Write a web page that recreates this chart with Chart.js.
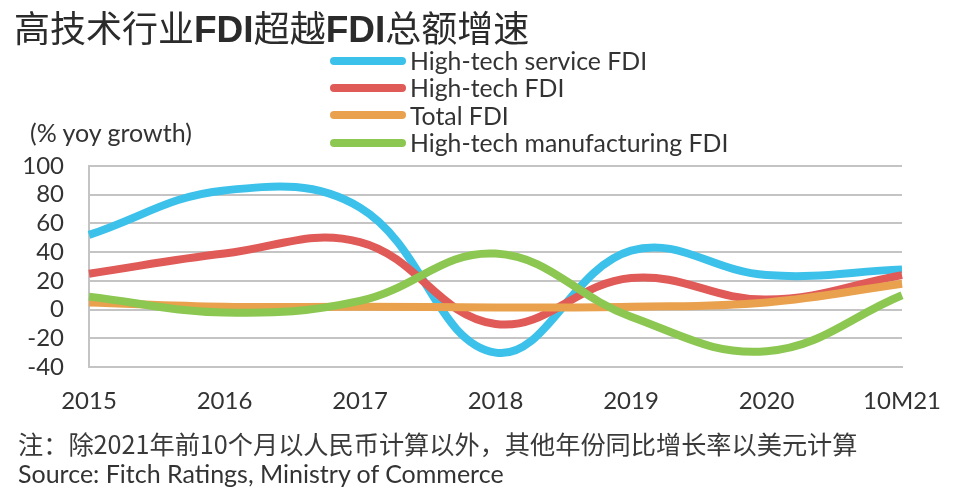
<!DOCTYPE html>
<html>
<head>
<meta charset="utf-8">
<script src="https://cdn.jsdelivr.net/npm/chart.js@4/dist/chart.umd.min.js"></script>
<style>
  html, body { margin: 0; padding: 0; background: #fff; }
  #wrap { position: relative; width: 961px; height: 500px; overflow: hidden; background: #fff; }
  #chart { position: absolute; left: 0; top: 0; }
  .t { position: absolute; white-space: nowrap; color: #333; }
  #title { left: 14px; top: 3px; font-family: "Noto Sans CJK SC", sans-serif; font-size: 36px; line-height: 46px; color: #2b2b2b; }
  #title b { font-family: "Liberation Sans", Arial, sans-serif; font-weight: 700; font-size: 37px; }
  #ylab { left: 30px; top: 117px; font-family: Lato, sans-serif; font-size: 25px; line-height: 30px; }
  #legend { position: absolute; left: 330px; top: 47px; font-family: Lato, sans-serif; font-size: 24.8px; color: #333; }
  #legend .row { height: 27.3px; display: flex; align-items: center; }
  #legend .sw { width: 76px; height: 8px; border-radius: 4px; margin-right: 4px; }
  #note { left: 18px; top: 427px; font-family: "Noto Sans CJK SC", sans-serif; font-size: 25.2px; line-height: 32px; color: #3a3a3a; }
  #src { left: 18px; top: 458px; font-family: Lato, sans-serif; font-size: 25px; line-height: 30px; }
</style>
</head>
<body>
<div id="wrap">
  <canvas id="chart" width="961" height="500"></canvas>
  <div class="t" id="title">高技术行业<b>FDI</b>超越<b>FDI</b>总额增速</div>
  <div id="legend"></div>
  <div class="t" id="ylab">(% yoy growth)</div>
  <div class="t" id="note">注：除2021年前10个月以人民币计算以外，其他年份同比增长率以美元计算</div>
  <div class="t" id="src">Source: Fitch Ratings, Ministry of Commerce</div>
</div>
<script>
const categories = ["2015", "2016", "2017", "2018", "2019", "2020", "10M21"];
const seriesNames = ["High-tech service FDI", "High-tech FDI", "Total FDI", "High-tech manufacturing FDI"];
const hiTechService = [52, 83, 71, -30, 41, 24, 28];
const hiTech = [25, 39, 47, -10, 22, 7, 24];
const totalFDI = [5, 2, 2, 1.5, 2, 5, 18];
const hiTechMfg = [9, -2, 6, 39, -5, -29, 10];
const yTicks = [-40, -20, 0, 20, 40, 60, 80, 100];
const colors = ["#3cc1ea", "#e05a58", "#e9a14e", "#8cc751"];

const seriesValues = [hiTechService, hiTech, totalFDI, hiTechMfg];
const datasets = seriesNames.map((name, i) => ({
  label: name,
  data: seriesValues[i],
  borderColor: colors[i],
  backgroundColor: colors[i],
  borderWidth: 8,
  pointRadius: 0,
  pointHoverRadius: 0,
  tension: 0.4,
  fill: false,
  order: seriesNames.length - i
}));

const PLOT_LEFT = 89, PLOT_RIGHT = 912, PLOT_TOP = 166, PLOT_BOTTOM = 367;
const gridColor = "#c4c4c4";

const chart = new Chart(document.getElementById("chart"), {
  type: "line",
  data: { labels: categories, datasets },
  options: {
    responsive: false,
    animation: false,
    events: [],
    layout: { padding: { left: 0, right: 961 - PLOT_RIGHT, top: PLOT_TOP, bottom: 500 - PLOT_BOTTOM - 50 } },
    plugins: { legend: { display: false }, tooltip: { enabled: false }, title: { display: false } },
    scales: {
      x: {
        type: "category",
        offset: false,
        grid: { display: false, drawTicks: false },
        border: { display: true, color: gridColor, width: 2 },
        ticks: { color: "#333", font: { family: "Lato", size: 24 }, padding: 20, maxRotation: 0, autoSkip: false },
        afterFit(scale) { scale.height = 50; }
      },
      y: {
        min: -40, max: 100,
        afterBuildTicks(scale) { scale.ticks = yTicks.map(v => ({ value: v })); },
        grid: { color: gridColor, lineWidth: 2, drawTicks: false },
        border: { display: true, color: gridColor, width: 2 },
        ticks: { color: "#333", font: { family: "Lato", size: 24 }, padding: 25, autoSkip: false },
        afterFit(scale) { scale.width = PLOT_LEFT; }
      }
    }
  }
});

const legendEl = document.getElementById("legend");
seriesNames.forEach((name, i) => {
  const row = document.createElement("div");
  row.className = "row";
  const sw = document.createElement("div");
  sw.className = "sw";
  sw.style.background = colors[i];
  const tx = document.createElement("span");
  tx.textContent = name;
  row.appendChild(sw);
  row.appendChild(tx);
  legendEl.appendChild(row);
});
</script>
</body>
</html>
